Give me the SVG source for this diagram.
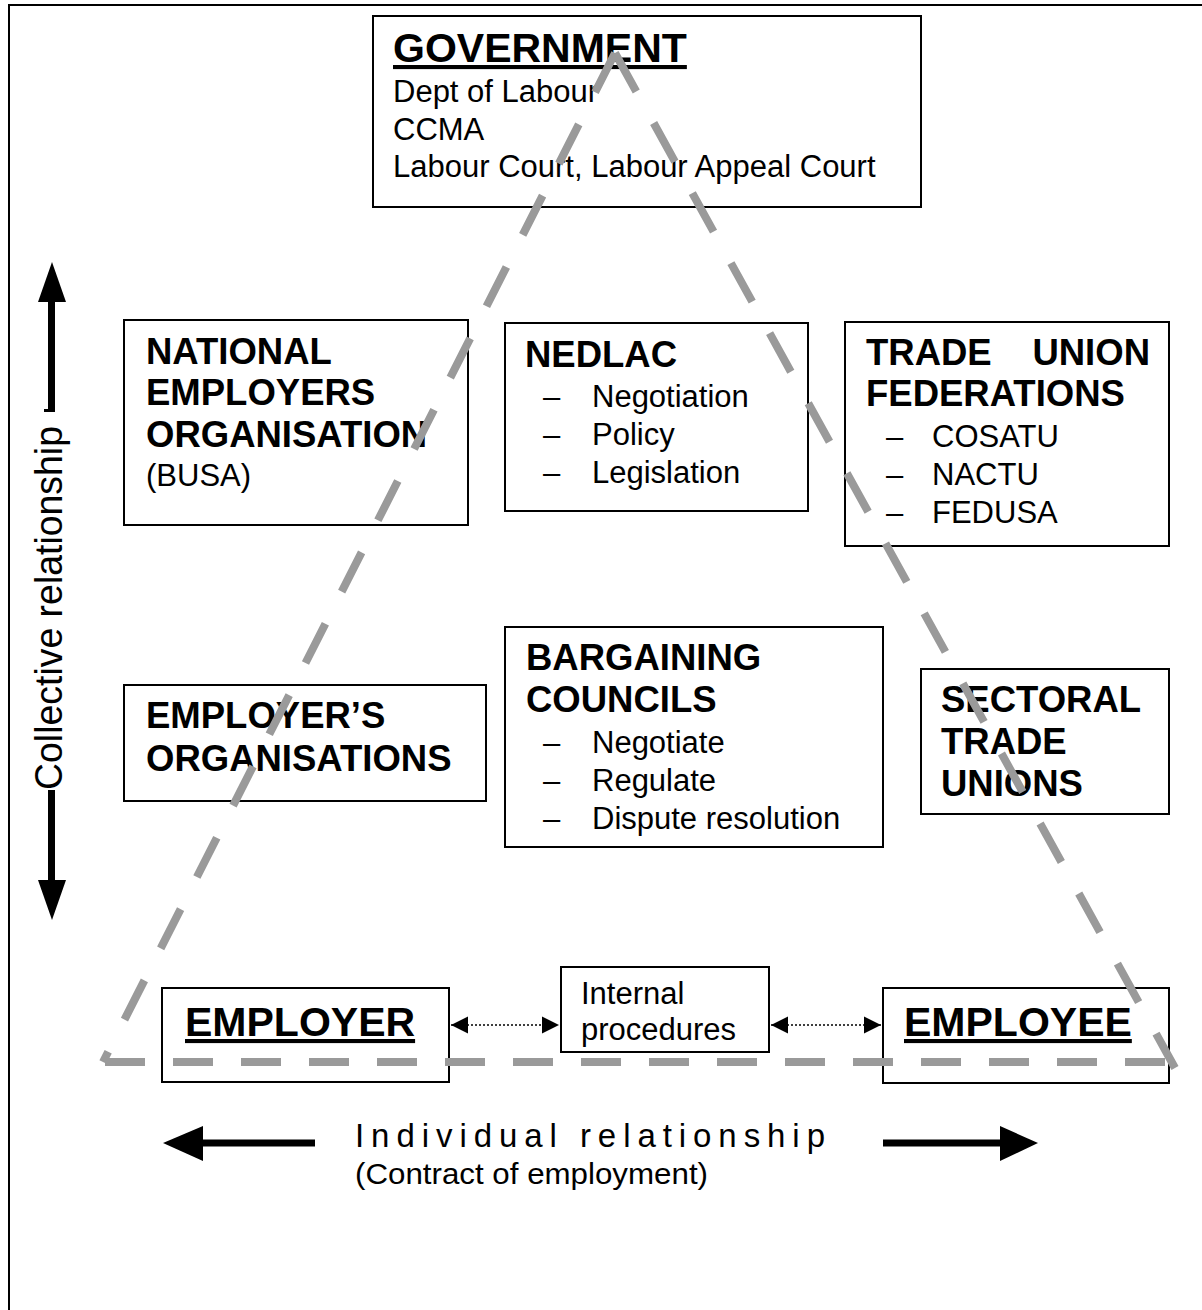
<svg xmlns="http://www.w3.org/2000/svg" width="1202" height="1310" viewBox="0 0 1202 1310">
<style>
.box{fill:#fff;stroke:#000;stroke-width:2}
.t{font-family:"Liberation Sans",Arial,sans-serif;fill:#000}
.b{font-weight:bold;font-size:36.5px}
.r{font-size:31px}
.big{font-weight:bold;font-size:41px;text-decoration:underline}
.dash{fill:none;stroke:#9a9a9a;stroke-width:8}
.dot{fill:none;stroke:#000;stroke-width:1.5;stroke-dasharray:2 2}
</style>
<defs>
<marker id="ah" viewBox="0 0 10 10" refX="10" refY="5" markerWidth="17" markerHeight="18" markerUnits="userSpaceOnUse" orient="auto-start-reverse">
<path d="M0,0 L10,5 L0,10 z" fill="#000"/>
</marker>
</defs>
<rect width="1202" height="1310" fill="#fff"/>
<path d="M9,1310 V5 H1202" fill="none" stroke="#000" stroke-width="2"/>

<g id="government">
<rect class="box" x="373" y="16" width="548" height="191"/>
<text class="t big" x="393" y="62">GOVERNMENT</text>
<text class="t r" x="393" y="102">Dept of Labour</text>
<text class="t r" x="393" y="140">CCMA</text>
<text class="t r" x="393" y="177">Labour Court, Labour Appeal Court</text>
</g>

<g id="national-employers">
<rect class="box" x="124" y="320" width="344" height="205"/>
<text class="t b" x="146" y="364">NATIONAL</text>
<text class="t b" x="146" y="405">EMPLOYERS</text>
<text class="t b" x="146" y="447">ORGANISATION</text>
<text class="t r" x="146" y="486">(BUSA)</text>
</g>

<g id="nedlac">
<rect class="box" x="505" y="323" width="303" height="188"/>
<text class="t b" x="525" y="367">NEDLAC</text>
<text class="t r" x="543" y="407">–</text><text class="t r" x="592" y="407">Negotiation</text>
<text class="t r" x="543" y="445">–</text><text class="t r" x="592" y="445">Policy</text>
<text class="t r" x="543" y="483">–</text><text class="t r" x="592" y="483">Legislation</text>
</g>

<g id="trade-union-federations">
<rect class="box" x="845" y="322" width="324" height="224"/>
<text class="t b" x="866" y="365">TRADE</text>
<text class="t b" x="1150" y="365" text-anchor="end">UNION</text>
<text class="t b" x="866" y="406">FEDERATIONS</text>
<text class="t r" x="886" y="447">–</text><text class="t r" x="932" y="447">COSATU</text>
<text class="t r" x="886" y="485">–</text><text class="t r" x="932" y="485">NACTU</text>
<text class="t r" x="886" y="523">–</text><text class="t r" x="932" y="523">FEDUSA</text>
</g>

<g id="employers-organisations">
<rect class="box" x="124" y="685" width="362" height="116"/>
<text class="t b" x="146" y="728">EMPLOYER’S</text>
<text class="t b" x="146" y="771">ORGANISATIONS</text>
</g>

<g id="bargaining-councils">
<rect class="box" x="505" y="627" width="378" height="220"/>
<text class="t b" x="526" y="670">BARGAINING</text>
<text class="t b" x="526" y="712">COUNCILS</text>
<text class="t r" x="543" y="753">–</text><text class="t r" x="592" y="753">Negotiate</text>
<text class="t r" x="543" y="791">–</text><text class="t r" x="592" y="791">Regulate</text>
<text class="t r" x="543" y="829">–</text><text class="t r" x="592" y="829">Dispute resolution</text>
</g>

<g id="sectoral-trade-unions">
<rect class="box" x="921" y="669" width="248" height="145"/>
<text class="t b" x="941" y="712">SECTORAL</text>
<text class="t b" x="941" y="754">TRADE</text>
<text class="t b" x="941" y="796">UNIONS</text>
</g>

<g id="employer">
<rect class="box" x="162" y="988" width="287" height="94"/>
<text class="t big" x="185" y="1036">EMPLOYER</text>
</g>

<g id="internal-procedures">
<rect class="box" x="561" y="967" width="208" height="85"/>
<text class="t r" x="581" y="1004">Internal</text>
<text class="t r" x="581" y="1040">procedures</text>
</g>

<g id="employee">
<rect class="box" x="883" y="988" width="286" height="95"/>
<text class="t big" x="904" y="1036">EMPLOYEE</text>
</g>

<g id="connectors">
<path class="dash" d="M615,53 L103,1062" stroke-dasharray="44 36"/>
<path class="dash" d="M615,53 L1175,1068" stroke-dasharray="44 36"/>
<path class="dash" d="M105,1062 H1175" stroke-dasharray="40 28"/>
<path class="dot" d="M451,1025 H559" marker-start="url(#ah)" marker-end="url(#ah)"/>
<path class="dot" d="M771,1025 H881" marker-start="url(#ah)" marker-end="url(#ah)"/>
</g>

<g id="collective-axis">
<polygon points="52,262 38,302 66,302" fill="#000"/>
<rect x="48" y="300" width="7" height="112" fill="#000"/>
<rect x="44" y="409" width="11" height="3" fill="#000"/>
<text class="t" font-size="38" transform="translate(62,790) rotate(-90)" textLength="364" lengthAdjust="spacingAndGlyphs">Collective relationship</text>
<rect x="48" y="790" width="7" height="92" fill="#000"/>
<polygon points="52,920 38,880 66,880" fill="#000"/>
</g>

<g id="individual-axis">
<polygon points="163,1143 203,1126 203,1161" fill="#000"/>
<rect x="200" y="1139.5" width="115" height="7" fill="#000"/>
<text class="t" font-size="33" x="355" y="1147" textLength="470" lengthAdjust="spacing">Individual relationship</text>
<text class="t" font-size="29" x="355" y="1184" textLength="353" lengthAdjust="spacingAndGlyphs">(Contract of employment)</text>
<rect x="883" y="1139.5" width="120" height="7" fill="#000"/>
<polygon points="1038,1143 1000,1126 1000,1161" fill="#000"/>
</g>
</svg>
